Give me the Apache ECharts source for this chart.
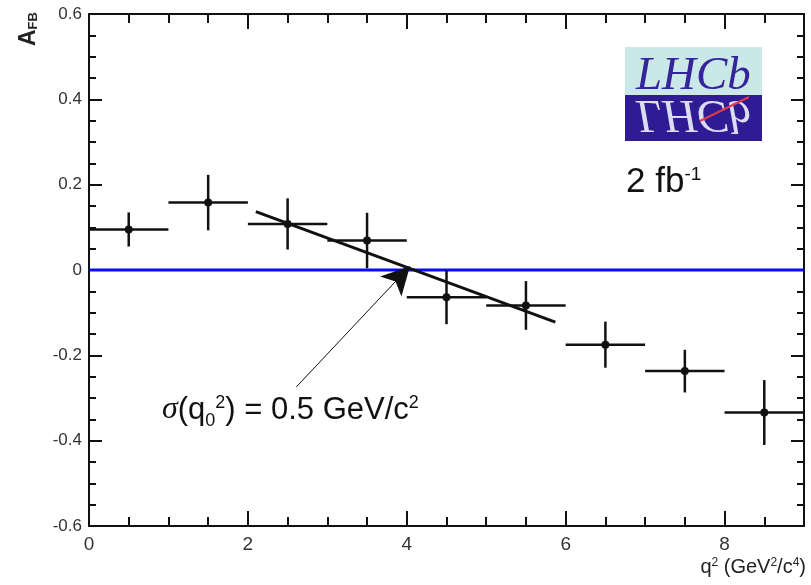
<!DOCTYPE html>
<html>
<head>
<meta charset="utf-8">
<script src="https://cdn.jsdelivr.net/npm/echarts@6/dist/echarts.min.js"></script>
<style>
  html, body { margin: 0; padding: 0; background: #fff; }
  #chart { width: 811px; height: 585px; }
</style>
</head>
<body>
<div id="chart"></div>
<script>
// q^2 bins (GeV^2/c^4) and measured forward-backward asymmetry
const binCenters = [0.5, 1.5, 2.5, 3.5, 4.5, 5.5, 6.5, 7.5, 8.5];
const binHalfWidth = 0.5;
const afbValues = [0.095, 0.158, 0.108, 0.069, -0.064, -0.083, -0.175, -0.237, -0.334];
const afbErrors = [0.040, 0.065, 0.060, 0.065, 0.063, 0.057, 0.054, 0.050, 0.076];

// linear fit around the zero crossing
const fitQ = [2.1, 5.87];
const fitAfb = [0.137, -0.122];

// zero reference line
const zeroQ = [0, 9];
const zeroAfb = [0, 0];

// annotation arrow (start, tip) in data coords
const arrowQ = [2.61, 4.04];
const arrowAfb = [-0.274, 0.009];

const chart = echarts.init(document.getElementById('chart'));

const axisCommon = {
    type: 'value',
    axisLine: { show: true, onZero: false, lineStyle: { color: '#111', width: 2 } },
    axisTick: { show: true, inside: true, lineStyle: { color: '#111', width: 2 } },
    minorTick: { show: true, splitNumber: 4, lineStyle: { color: '#111', width: 2 } },
    splitLine: { show: false },
    minorSplitLine: { show: false }
};

function xAxisCfg(pos, labels) {
    return Object.assign({}, axisCommon, {
        position: pos,
        min: 0, max: 9, interval: 2,
        axisTick: Object.assign({}, axisCommon.axisTick, { length: 15 }),
        minorTick: Object.assign({}, axisCommon.minorTick, { length: 9 }),
        axisLabel: {
            show: labels, showMaxLabel: false, margin: 9,
            fontSize: 19, color: '#333', fontFamily: 'Liberation Sans'
        }
    });
}
function yAxisCfg(pos, labels) {
    return Object.assign({}, axisCommon, {
        position: pos,
        min: -0.6, max: 0.6, interval: 0.2,
        axisTick: Object.assign({}, axisCommon.axisTick, { length: 13 }),
        minorTick: Object.assign({}, axisCommon.minorTick, { length: 7 }),
        axisLabel: {
            show: labels, margin: 7,
            fontSize: 17, color: '#333', fontFamily: 'Liberation Sans'
        }
    });
}

chart.setOption({
    animation: false,
    grid: { left: 89, right: 7, top: 14, bottom: 59 },
    xAxis: [xAxisCfg('bottom', true), xAxisCfg('top', false)],
    yAxis: [yAxisCfg('left', true), yAxisCfg('right', false)],
    series: [
        {
            type: 'line',
            data: zeroQ.map((q, i) => [q, zeroAfb[i]]),
            symbol: 'none',
            lineStyle: { color: '#0a0aff', width: 3 },
            z: 2
        },
        {
            type: 'custom',
            data: binCenters.map((q, i) => [q, afbValues[i], afbErrors[i]]),
            z: 3,
            renderItem: function (params, api) {
                const q = api.value(0), a = api.value(1), e = api.value(2);
                const c = api.coord([q, a]);
                const l = api.coord([q - binHalfWidth, a]);
                const r = api.coord([q + binHalfWidth, a]);
                const t = api.coord([q, a + e]);
                const b = api.coord([q, a - e]);
                const st = { stroke: '#111', lineWidth: 2.5 };
                return {
                    type: 'group',
                    children: [
                        { type: 'line', shape: { x1: l[0], y1: l[1], x2: r[0], y2: r[1] }, style: st },
                        { type: 'line', shape: { x1: t[0], y1: t[1], x2: b[0], y2: b[1] }, style: st },
                        { type: 'circle', shape: { cx: c[0], cy: c[1], r: 4 }, style: { fill: '#111' } }
                    ]
                };
            }
        },
        {
            type: 'line',
            data: fitQ.map((q, i) => [q, fitAfb[i]]),
            symbol: 'none',
            lineStyle: { color: '#111', width: 3 },
            z: 4,
            markLine: {
                silent: true,
                symbol: ['none', 'arrow'],
                symbolSize: [22, 28],
                label: { show: false },
                lineStyle: { color: '#111', width: 1, type: 'solid' },
                itemStyle: { color: '#111' },
                data: [[
                    { coord: [arrowQ[0], arrowAfb[0]] },
                    { coord: [arrowQ[1], arrowAfb[1]] }
                ]]
            }
        }
    ],
    graphic: [
        // y axis title
        {
            type: 'text', x: 17, y: 46, rotation: Math.PI / 2,
            style: {
                text: '{a|A}{s|FB}',
                rich: {
                    a: { fontSize: 23, fontWeight: 'bold', fontFamily: 'Liberation Sans', fill: '#222', verticalAlign: 'top' },
                    s: { fontSize: 13, fontWeight: 'bold', fontFamily: 'Liberation Sans', fill: '#222', verticalAlign: 'bottom' }
                }
            }
        },
        // x axis title
        {
            type: 'text', right: 5, top: 557,
            style: {
                text: 'q{p|2} (GeV{p|2}/c{p|4})',
                fontSize: 20, fontFamily: 'Liberation Sans', fill: '#222',
                rich: {
                    p: { fontSize: 12, fontFamily: 'Liberation Sans', fill: '#222', verticalAlign: 'top' }
                }
            }
        },
        // luminosity
        {
            type: 'text', x: 626, y: 165,
            style: {
                text: '{m|2 fb}{p|-1}',
                rich: {
                    m: { fontSize: 35, fontFamily: 'Liberation Sans', fill: '#111', verticalAlign: 'bottom' },
                    p: { fontSize: 19, fontFamily: 'Liberation Sans', fill: '#111', verticalAlign: 'top' }
                }
            }
        },
        // sigma annotation
        {
            type: 'text', x: 162, y: 394,
            style: {
                text: '{g|σ}{m|(q}{b|0}{p|2}{m|) = 0.5 GeV/c}{p|2}',
                rich: {
                    g: { fontSize: 32, fontStyle: 'italic', fontFamily: 'Liberation Serif', fill: '#111', verticalAlign: 'bottom' },
                    m: { fontSize: 31, fontFamily: 'Liberation Sans', fill: '#111', verticalAlign: 'bottom' },
                    b: { fontSize: 18, fontFamily: 'Liberation Sans', fill: '#111', verticalAlign: 'bottom', padding: [0, 0, -4, 0] },
                    p: { fontSize: 18, fontFamily: 'Liberation Sans', fill: '#111', verticalAlign: 'top' }
                }
            }
        },
        // LHCb logo
        { type: 'rect', shape: { x: 625, y: 47, width: 137, height: 48 }, style: { fill: '#cbe8e9' } },
        { type: 'rect', shape: { x: 625, y: 95, width: 137, height: 46 }, style: { fill: '#2f1b93' } },
        {
            type: 'text', x: 636, y: 100, scaleX: 1.02,
            style: {
                text: 'LHCb', fontSize: 46, fontStyle: 'italic', fontFamily: 'Liberation Serif',
                fill: '#35249a', verticalAlign: 'bottom'
            }
        },
        {
            type: 'text', x: 636, y: 90, scaleX: 1.02, scaleY: -1,
            style: {
                text: 'LHCb', fontSize: 46, fontStyle: 'italic', fontFamily: 'Liberation Serif',
                fill: '#dcdcf2', verticalAlign: 'bottom'
            }
        },
        { type: 'line', shape: { x1: 700, y1: 121, x2: 749, y2: 97 }, style: { stroke: '#e23a4a', lineWidth: 2 } }
    ]
});
</script>
</body>
</html>
